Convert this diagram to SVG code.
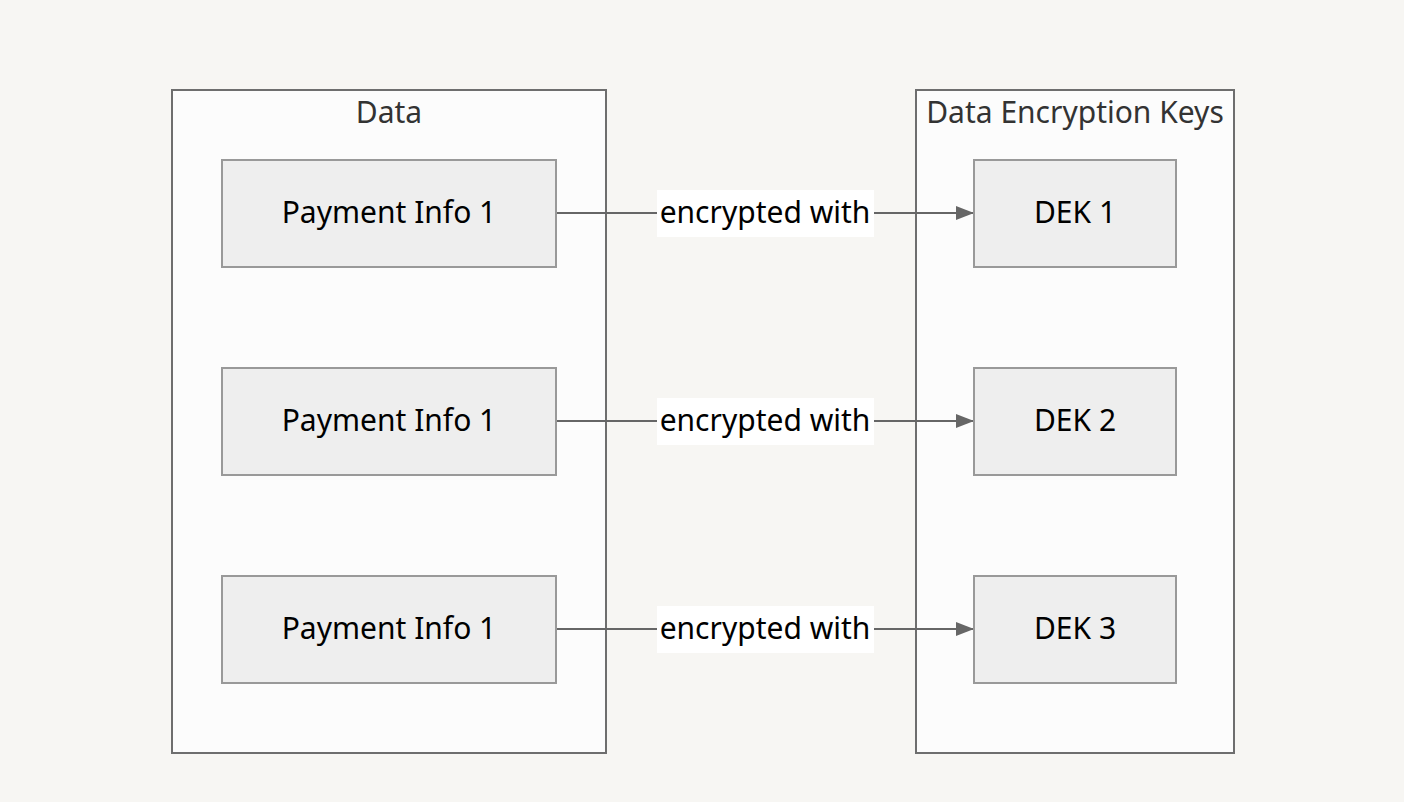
<svg xmlns="http://www.w3.org/2000/svg" width="1404" height="802" viewBox="0 0 1404 802">
<style>
.bg{fill:#f7f6f3}
.cluster{fill:#fcfcfc;stroke:#6e6e6e;stroke-width:2}
.node{fill:#eeeeee;stroke:#999999;stroke-width:2}
.t{font-family:"Noto Sans","Liberation Sans",sans-serif;font-size:30px;text-anchor:middle;fill:#000}
.ct{font-family:"Noto Sans","Liberation Sans",sans-serif;font-size:30px;text-anchor:middle;fill:#333}
.edge{stroke:#666;stroke-width:2;fill:none}
.lbl{fill:#ffffff}
</style>
<defs>
<marker id="arr" viewBox="0 0 10 10" refX="10" refY="5" markerWidth="9" markerHeight="9" markerUnits="userSpaceOnUse" orient="auto">
<path d="M0,0 L10,5 L0,10 z" fill="#666"/>
</marker>
<marker id="arrow" viewBox="0 0 18 14" refX="18" refY="7" markerWidth="18" markerHeight="14" markerUnits="userSpaceOnUse" orient="auto">
<path d="M0,0 L18,7 L0,14 z" fill="#666"/>
</marker>
</defs>
<rect class="bg" x="0" y="0" width="1404" height="802"/>
<g id="cluster-data">
<rect class="cluster" x="172" y="90" width="434" height="663"/>
<text class="ct" x="389" y="123">Data</text>
</g>
<g id="cluster-dek">
<rect class="cluster" x="916" y="90" width="318" height="663"/>
<text class="ct" x="1075" y="123">Data Encryption Keys</text>
</g>
<g id="edges">
<path class="edge" d="M557,213 L974,213" marker-end="url(#arrow)"/>
<path class="edge" d="M557,421 L974,421" marker-end="url(#arrow)"/>
<path class="edge" d="M557,629 L974,629" marker-end="url(#arrow)"/>
<g id="edge-label-1"><rect class="lbl" x="657" y="190" width="217" height="47"/><text class="t" x="765" y="223">encrypted with</text></g>
<g id="edge-label-2"><rect class="lbl" x="657" y="398" width="217" height="47"/><text class="t" x="765" y="431">encrypted with</text></g>
<g id="edge-label-3"><rect class="lbl" x="657" y="606" width="217" height="47"/><text class="t" x="765" y="639">encrypted with</text></g>
</g>
<g id="pay1"><rect class="node" x="222" y="160" width="334" height="107"/><text class="t" x="389" y="223">Payment Info 1</text></g>
<g id="pay2"><rect class="node" x="222" y="368" width="334" height="107"/><text class="t" x="389" y="431">Payment Info 1</text></g>
<g id="pay3"><rect class="node" x="222" y="576" width="334" height="107"/><text class="t" x="389" y="639">Payment Info 1</text></g>
<g id="dek1"><rect class="node" x="974" y="160" width="202" height="107"/><text class="t" x="1075" y="223">DEK 1</text></g>
<g id="dek2"><rect class="node" x="974" y="368" width="202" height="107"/><text class="t" x="1075" y="431">DEK 2</text></g>
<g id="dek3"><rect class="node" x="974" y="576" width="202" height="107"/><text class="t" x="1075" y="639">DEK 3</text></g>
</svg>
